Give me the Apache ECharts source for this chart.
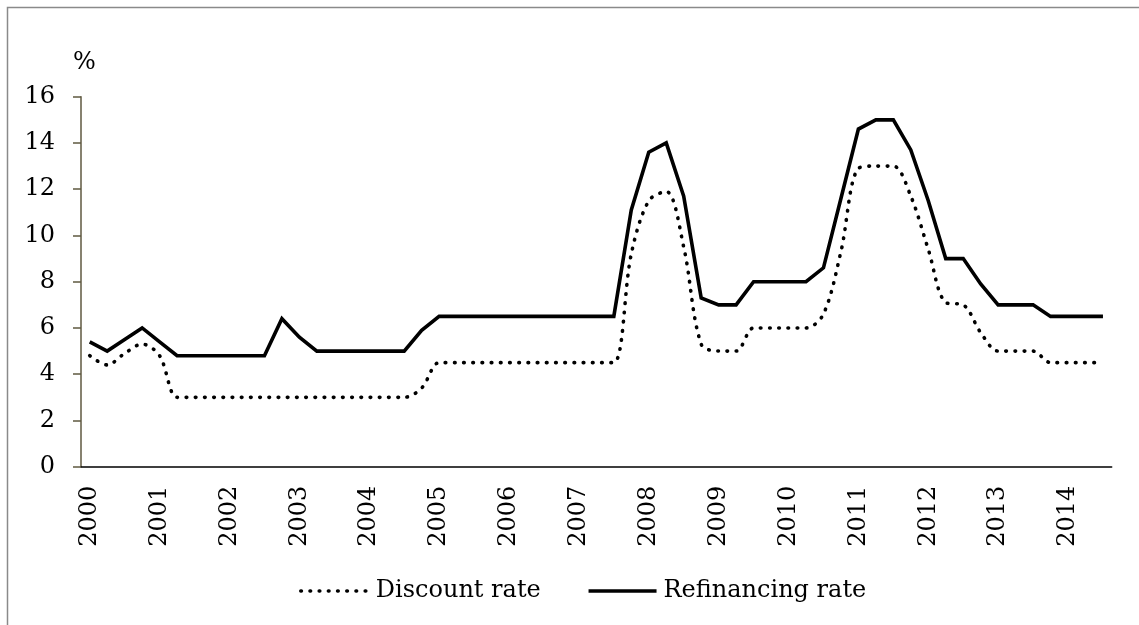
<!DOCTYPE html>
<html>
<head>
<meta charset="utf-8">
<script src="https://cdn.jsdelivr.net/npm/echarts@6/dist/echarts.min.js"></script>
<style>
  html, body { margin: 0; padding: 0; background: #fff; }
  #chart { width: 1139px; height: 625px; }
</style>
</head>
<body>
<div id="chart"></div>
<script>
// Quarterly policy rates, 2000 Q1 – 2014 Q3 (%)
const years = ['2000','2001','2002','2003','2004','2005','2006','2007',
               '2008','2009','2010','2011','2012','2013','2014'];
const quartersInLastYear = 3;

const discountRate = [
  4.8, 4.4, 4.9, 5.3, 4.8,
  3.0, 3.0, 3.0, 3.0, 3.0, 3.0, 3.0, 3.0, 3.0, 3.0, 3.0, 3.0, 3.0, 3.0,
  3.4,
  4.5, 4.5, 4.5, 4.5, 4.5, 4.5, 4.5, 4.5, 4.5, 4.5, 4.5,
  9.2, 11.5, 11.9, 9.5, 5.3, 5.0, 5.0,
  6.0, 6.0, 6.0, 6.0,
  6.6, 9.3, 12.9, 13.0, 13.0, 11.7, 9.4, 7.1, 7.0, 5.8, 5.0, 5.0, 5.0,
  4.5, 4.5, 4.5, 4.5
];

const refinancingRate = [
  5.4, 5.0, 5.5, 6.0, 5.4,
  4.8, 4.8, 4.8, 4.8, 4.8, 4.8,
  6.4, 5.6,
  5.0, 5.0, 5.0, 5.0, 5.0, 5.0,
  5.9,
  6.5, 6.5, 6.5, 6.5, 6.5, 6.5, 6.5, 6.5, 6.5, 6.5, 6.5,
  11.1, 13.6, 14.0, 11.7, 7.3, 7.0, 7.0,
  8.0, 8.0, 8.0, 8.0,
  8.6, 11.6, 14.6, 15.0, 15.0, 13.7, 11.5, 9.0, 9.0, 7.9, 7.0, 7.0, 7.0,
  6.5, 6.5, 6.5, 6.5
];

const yTicks = { min: 0, max: 16, step: 2 };

// one category per quarter
const quarters = [];
years.forEach((y, i) => {
  const n = i === years.length - 1 ? quartersInLastYear : 4;
  for (let q = 1; q <= n; q++) quarters.push(y + ' Q' + q);
});

const FONT = 'DejaVu Serif';
const dotted = { color: '#000', width: 3.6, type: [0.6, 8.6], cap: 'round' };
const solid = { color: '#000', width: 3.6, type: 'solid', cap: 'butt', join: 'miter' };
const noSymbol = { color: 'rgba(0,0,0,0)', borderWidth: 0, opacity: 0 };

const chart = echarts.init(document.getElementById('chart'), null, { renderer: 'canvas' });

chart.setOption({
  backgroundColor: '#ffffff',
  animation: false,
  textStyle: { fontFamily: FONT, color: '#000' },
  graphic: [{
    type: 'rect',
    silent: true,
    shape: { x: 7.5, y: 7.5, width: 1160, height: 660 },
    style: { fill: 'none', stroke: '#8a8a8a', lineWidth: 1.5 }
  }],
  grid: { left: 81, top: 96.7, width: 1030.7, height: 370, containLabel: false },
  legend: {
    left: 294,
    top: 574,
    itemWidth: 68,
    itemHeight: 6,
    itemGap: 46,
    textStyle: { fontFamily: FONT, fontSize: 24, color: '#000', padding: [0, 0, 0, 2] },
    data: [
      { name: 'Discount rate', lineStyle: dotted, itemStyle: noSymbol },
      { name: 'Refinancing rate', lineStyle: solid, itemStyle: noSymbol }
    ]
  },
  xAxis: {
    type: 'category',
    data: quarters,
    boundaryGap: true,
    axisLine: { lineStyle: { color: '#000', width: 1.5 } },
    axisTick: { interval: 3, inside: true, length: 8, lineStyle: { color: '#000', width: 1.5 } },
    axisLabel: {
      interval: 3,
      rotate: 90,
      margin: 19,
      fontFamily: FONT,
      fontSize: 24,
      color: '#000',
      formatter: v => v.slice(0, 4)
    },
    splitLine: { show: false }
  },
  yAxis: {
    type: 'value',
    min: yTicks.min,
    max: yTicks.max,
    interval: yTicks.step,
    name: '%',
    nameLocation: 'end',
    nameGap: 22,
    nameTextStyle: { fontFamily: FONT, fontSize: 24, color: '#000', align: 'left', padding: [0, 0, 0, -8] },
    axisLine: { show: true, lineStyle: { color: '#5f5940', width: 1.5 } },
    axisTick: { show: true, inside: false, length: 8, lineStyle: { color: '#5f5940', width: 1.5 } },
    axisLabel: { margin: 26, fontFamily: FONT, fontSize: 24, color: '#000' },
    splitLine: { show: false }
  },
  series: [
    {
      name: 'Discount rate',
      type: 'line',
      data: discountRate,
      smooth: 0.33,
      symbol: 'none',
      color: '#000',
      lineStyle: dotted
    },
    {
      name: 'Refinancing rate',
      type: 'line',
      data: refinancingRate,
      smooth: false,
      symbol: 'none',
      color: '#000',
      lineStyle: solid
    }
  ]
});
</script>
</body>
</html>
